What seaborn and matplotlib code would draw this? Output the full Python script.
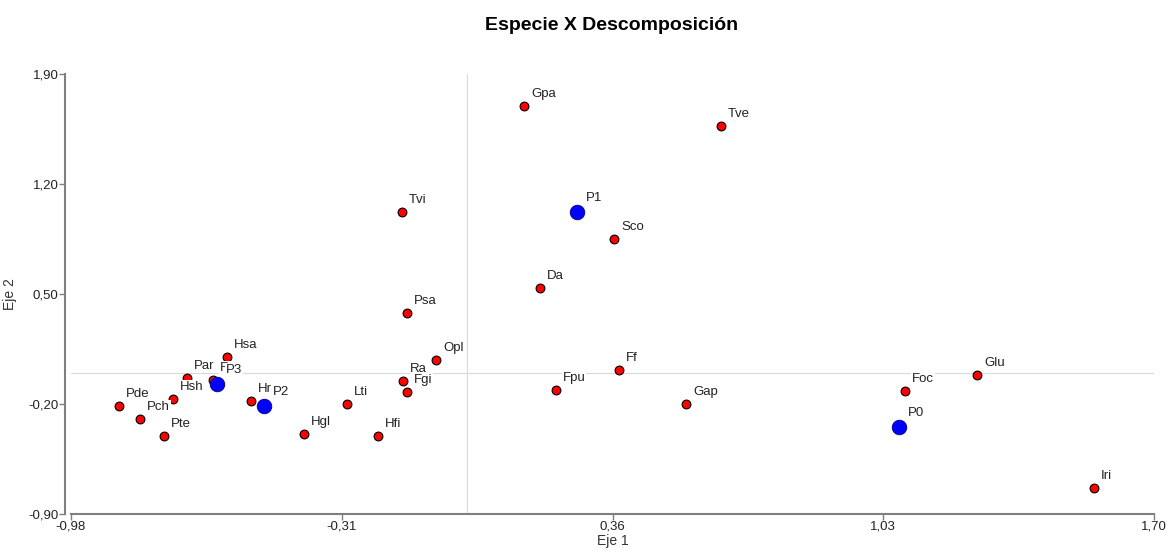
import matplotlib
matplotlib.use("Agg")
import matplotlib.pyplot as plt
import seaborn as sns
import pandas as pd
from matplotlib.ticker import FuncFormatter, FixedLocator

# especies (puntos rojos)
especies = ['Gpa', 'Tve', 'Tvi', 'Sco', 'Da', 'Psa', 'Opl', 'Ff', 'Glu', 'Ra',
            'Fgi', 'Fpu', 'Foc', 'Gap', 'Iri', 'Lti', 'Hfi', 'Hgl', 'Hr', 'Hsa',
            'Par', 'Fr', 'Hsh', 'Pde', 'Pch', 'Pte']
esp_x = [0.141, 0.629, -0.161, 0.364, 0.181, -0.149, -0.077, 0.376, 1.262, -0.158,
         -0.149, 0.220, 1.084, 0.542, 1.552, -0.297, -0.220, -0.403, -0.535, -0.594,
         -0.693, -0.629, -0.728, -0.861, -0.809, -0.750]
esp_y = [1.696, 1.569, 1.022, 0.850, 0.538, 0.379, 0.080, 0.016, -0.016, -0.054,
         -0.124, -0.111, -0.118, -0.201, -0.735, -0.201, -0.404, -0.392, -0.181, 0.099,
         -0.035, -0.048, -0.169, -0.213, -0.296, -0.404]

# tiempos de descomposicion (puntos azules)
tiempos = ['P1', 'P2', 'P3', 'P0']
tiem_x = [0.272, -0.502, -0.619, 1.069]
tiem_y = [1.022, -0.213, -0.073, -0.347]

xticks = [-0.98, -0.31, 0.36, 1.03, 1.70]
yticks = [-0.90, -0.20, 0.50, 1.20, 1.90]

esp_df = pd.DataFrame({'Eje 1': esp_x, 'Eje 2': esp_y, 'lab': especies})
tiem_df = pd.DataFrame({'Eje 1': tiem_x, 'Eje 2': tiem_y, 'lab': tiempos})

sns.set_style('white')
plt.rcParams['font.family'] = ['Liberation Sans', 'DejaVu Sans']

fig = plt.figure(figsize=(11.76, 5.54), dpi=100)
ax = fig.add_axes([71/1176, 1 - 514/554, (1154 - 71)/1176, (514 - 74)/554])

ax.axvline(0, color='#d9d9d9', lw=0.8, zorder=0)
ax.axhline(0, color='#d9d9d9', lw=0.8, zorder=0)

sns.scatterplot(data=esp_df, x='Eje 1', y='Eje 2', color='#ff0000', edgecolor='black',
                linewidth=0.8, s=40, ax=ax, zorder=3)
sns.scatterplot(data=tiem_df, x='Eje 1', y='Eje 2', color='#0000ff', edgecolor='#000080',
                linewidth=0.6, s=110, ax=ax, zorder=3)

# etiquetas: especies primero, luego tiempos encima
for df, off in [(esp_df, (7, 6)), (tiem_df, (9, 8))]:
    for _, row in df.iterrows():
        ax.annotate(row['lab'], (row['Eje 1'], row['Eje 2']), xytext=off,
                    textcoords='offset pixels', ha='left', va='bottom', fontsize=9.5,
                    color='#222222', zorder=4,
                    bbox=dict(boxstyle='square,pad=0.05', fc='white', ec='none'))

ax.set_xlim(-0.98, 1.70)
ax.set_ylim(-0.90, 1.90)
ax.xaxis.set_major_locator(FixedLocator(xticks))
ax.yaxis.set_major_locator(FixedLocator(yticks))
fmt = FuncFormatter(lambda v, p: f"{v:.2f}".replace('.', ','))
ax.xaxis.set_major_formatter(fmt)
ax.yaxis.set_major_formatter(fmt)

for side in ['top', 'right']:
    ax.spines[side].set_visible(False)
for side in ['left', 'bottom']:
    ax.spines[side].set_color('#7f7f7f')
    ax.spines[side].set_linewidth(1.5)
ax.spines['left'].set_position(('outward', 4))
ax.tick_params(axis='both', direction='out', length=4, width=1, color='#7f7f7f',
               labelsize=9.5, labelcolor='#222222', pad=1, left=True, bottom=True)

ax.set_xlabel('Eje 1', fontsize=10, color='#333333', labelpad=1)
ax.set_ylabel('Eje 2', fontsize=10, color='#333333', labelpad=8)

fig.text(612/1176, 1 - 25/554, 'Especie X Descomposición', ha='center', va='center',
         fontsize=14, fontweight='bold', color='black')

fig.savefig('out.png', dpi=100)
